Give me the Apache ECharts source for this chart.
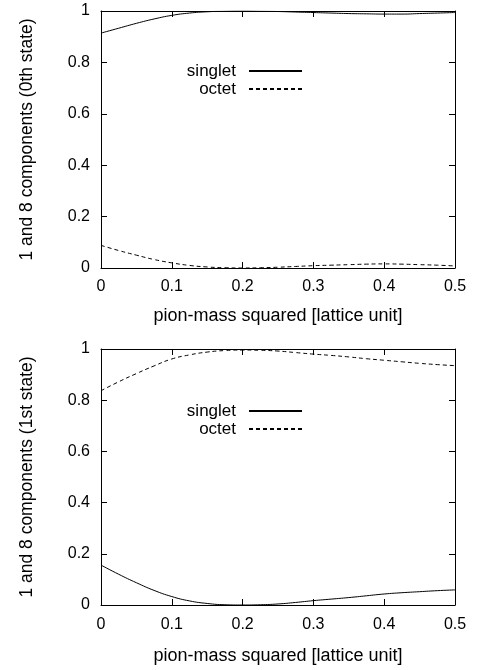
<!DOCTYPE html>
<html>
<head>
<meta charset="utf-8">
<script src="https://cdn.jsdelivr.net/npm/echarts@6/dist/echarts.min.js"></script>
<style>
html, body { margin: 0; padding: 0; background: #fff; }
#container { width: 477px; height: 670px; }
</style>
</head>
<body>
<div id="container"></div>
<script>
// pion-mass squared values
let xs = [0, 0.025, 0.05, 0.075, 0.1, 0.125, 0.15, 0.175, 0.2, 0.225, 0.25,
    0.275, 0.3, 0.325, 0.35, 0.375, 0.4, 0.425, 0.45, 0.475, 0.5]

// 0th state
let singlet0 = [0.914, 0.933, 0.952, 0.969, 0.983, 0.992, 0.997, 0.999, 1.0, 0.999, 0.998,
    0.996, 0.994, 0.992, 0.990, 0.989, 0.988, 0.988, 0.990, 0.992, 0.994]
let octet0 = [0.088, 0.068, 0.050, 0.033, 0.020, 0.010, 0.004, 0.001, 0.000, 0.001, 0.003,
    0.006, 0.009, 0.011, 0.013, 0.015, 0.016, 0.015, 0.013, 0.011, 0.008]

// 1st state
let singlet1 = [0.156, 0.120, 0.087, 0.057, 0.033, 0.016, 0.006, 0.001, 0.000, 0.001, 0.004,
    0.010, 0.017, 0.023, 0.029, 0.036, 0.043, 0.048, 0.052, 0.056, 0.059]
let octet1 = [0.837, 0.872, 0.904, 0.934, 0.961, 0.977, 0.988, 0.994, 0.996, 0.995, 0.992,
    0.986, 0.980, 0.975, 0.969, 0.962, 0.956, 0.950, 0.944, 0.939, 0.935]

let names = ['singlet', 'octet']
let yTitles = ['1 and 8 components (0th state)', '1 and 8 components (1st state)']
let xTitle = 'pion-mass squared [lattice unit]'

function pairs(ys) {
    let out = []
    for (let i = 0; i < xs.length; i++) {
        out.push([xs[i], ys[i]])
    }
    return out
}

let font = 'Liberation Sans, Arial, sans-serif'
let grids = [
    {left: 101, top: 11, width: 354, height: 257},
    {left: 101, top: 349, width: 354, height: 256}
]
let tickMargin = [11, 12]
let xNameGap = [39, 42]
let legendTop = [62, 402]

let xAxes = []
let yAxes = []
let series = []
let legends = []
let panelData = [[singlet0, octet0], [singlet1, octet1]]

let lineBlack = {show: true, onZero: false, lineStyle: {color: '#000', width: 1}}
let tickIn = {show: true, inside: true, length: 6, lineStyle: {color: '#000'}}

for (let g = 0; g < 2; g++) {
    // bottom x axis with labels
    xAxes.push({
        type: 'value', gridIndex: g, min: 0, max: 0.5, interval: 0.1,
        name: xTitle, nameLocation: 'middle', nameGap: xNameGap[g],
        nameTextStyle: {color: '#000', fontSize: 18, fontFamily: font},
        axisLine: lineBlack,
        axisTick: tickIn,
        axisLabel: {color: '#000', fontSize: 16, fontFamily: font, margin: tickMargin[g]},
        splitLine: {show: false}
    })
    // mirrored top axis
    xAxes.push({
        type: 'value', gridIndex: g, position: 'top', min: 0, max: 0.5, interval: 0.1,
        axisLine: lineBlack,
        axisTick: tickIn,
        axisLabel: {show: false},
        splitLine: {show: false}
    })
    yAxes.push({
        type: 'value', gridIndex: g, min: 0, max: 1, interval: 0.2,
        name: yTitles[g], nameLocation: 'middle', nameGap: 65,
        nameTextStyle: {color: '#000', fontSize: 17.5, fontFamily: font},
        axisLine: lineBlack,
        axisTick: tickIn,
        axisLabel: {color: '#000', fontSize: 16, fontFamily: font, margin: 11},
        splitLine: {show: false}
    })
    // mirrored right axis
    yAxes.push({
        type: 'value', gridIndex: g, position: 'right', min: 0, max: 1, interval: 0.2,
        axisLine: lineBlack,
        axisTick: tickIn,
        axisLabel: {show: false},
        splitLine: {show: false}
    })
    for (let s = 0; s < 2; s++) {
        series.push({
            name: names[s] + g,
            type: 'line',
            xAxisIndex: g * 2,
            yAxisIndex: g * 2,
            data: pairs(panelData[g][s]),
            smooth: 0.5,
            symbol: 'none',
            showSymbol: false,
            lineStyle: {color: '#000', width: 1, type: s == 0 ? 'solid' : [4, 3]},
            itemStyle: {color: '#000'}
        })
    }
    legends.push({
        orient: 'vertical',
        left: 176,
        top: legendTop[g],
        align: 'right',
        itemGap: 0,
        itemWidth: 53,
        itemHeight: 14,
        padding: 0,
        data: [names[0] + g, names[1] + g],
        formatter: function (n) { return n.replace(/\d$/, '') },
        itemStyle: {opacity: 0},
        textStyle: {color: '#000', fontSize: 17, lineHeight: 18, fontFamily: font, width: 60, align: 'right', padding: [0, 8, 0, 0]}
    })
}

let option = {
    animation: false,
    backgroundColor: '#fff',
    grid: grids,
    xAxis: xAxes,
    yAxis: yAxes,
    legend: legends,
    series: series
}

var myChart = echarts.init(document.getElementById('container'), null, {renderer: 'canvas'})
myChart.setOption(option)
</script>
</body>
</html>
